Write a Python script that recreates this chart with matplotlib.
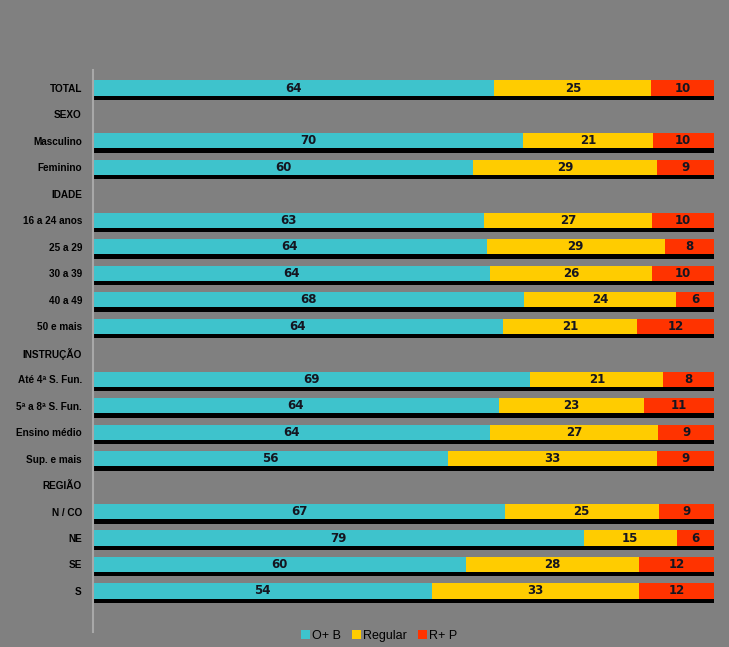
import matplotlib
matplotlib.use("Agg")
import matplotlib.pyplot as plt
import matplotlib.patheffects as pe
import numpy as np
from matplotlib.patches import Patch

labels = ["TOTAL", "SEXO", "Masculino", "Feminino", "IDADE", "16 a 24 anos",
          "25 a 29", "30 a 39", "40 a 49", "50 e mais", "INSTRUÇÃO",
          "Até 4ª S. Fun.", "5ª a 8ª S. Fun.", "Ensino médio", "Sup. e mais",
          "REGIÃO", "N / CO", "NE", "SE", "S"]
ob = [64, None, 70, 60, None, 63, 64, 64, 68, 64, None, 69, 64, 64, 56, None, 67, 79, 60, 54]
reg = [25, None, 21, 29, None, 27, 29, 26, 24, 21, None, 21, 23, 27, 33, None, 25, 15, 28, 33]
rp = [10, None, 10, 9, None, 10, 8, 10, 6, 12, None, 8, 11, 9, 9, None, 9, 6, 12, 12]
series_names = ["O+ B", "Regular", "R+ P"]
colors = ["#3EC3CC", "#FFCC00", "#FF3300"]
bg = "#808080"

fig = plt.figure(figsize=(7.29, 6.47), dpi=100, facecolor=bg)
ax = fig.add_axes([93/729, 15/647, 621/729, 562/647], facecolor=bg)

shadow = [pe.SimplePatchShadow(offset=(0.6, -3.2), shadow_rgbFace="black", alpha=1.0), pe.Normal()]
series = [ob, reg, rp]
for i, lab in enumerate(labels):
    if ob[i] is None:
        continue
    vals = np.array([s[i] for s in series], dtype=float)
    frac = vals / vals.sum()
    left = 0.0
    for j, (v, f) in enumerate(zip(vals, frac)):
        ax.barh(i, f, left=left, height=0.57, color=colors[j], linewidth=0,
                path_effects=shadow)
        ax.text(left + f / 2, i, f"{int(v)}", ha="center", va="center",
                fontsize=8.5, fontweight="bold", color="#151520",
                family=["DejaVu Sans"])
        left += f

ax.set_xlim(0, 1.0)
ax.set_ylim(20.55, -0.68)
ax.set_yticks(range(len(labels)))
ax.set_yticklabels(labels, fontsize=7.2, fontweight="bold", color="black",
                   family=["Liberation Sans", "DejaVu Sans"])
ax.tick_params(axis="y", length=0, pad=8)
ax.set_xticks([])
for s in ["top", "right", "bottom"]:
    ax.spines[s].set_visible(False)
ax.spines["left"].set_color("#A8A8A8")
ax.spines["left"].set_linewidth(1.5)

leg_handles = [Patch(facecolor=c, edgecolor="none") for c in colors]
fig.legend(leg_handles, series_names, loc="center", bbox_to_anchor=(0.52, 0.017),
           ncol=3, frameon=False, handlelength=0.7, handleheight=0.7,
           handletextpad=0.15, columnspacing=0.9,
           prop={"family": ["Liberation Sans"], "size": 9})

fig.savefig("out.png", dpi=100, facecolor=bg)
